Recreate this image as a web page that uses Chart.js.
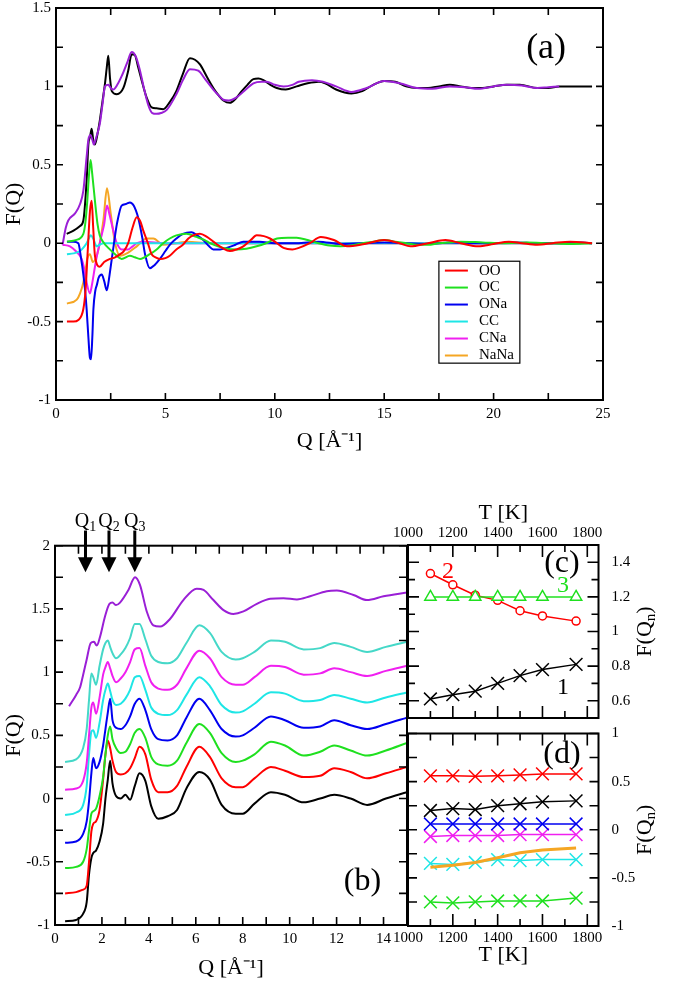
<!DOCTYPE html>
<html><head><meta charset="utf-8">
<script src="https://cdn.jsdelivr.net/npm/chart.js@4.4.1/dist/chart.umd.min.js"></script>
<style>
html,body{margin:0;padding:0;background:#fff;}
body{position:relative;width:685px;height:981px;overflow:hidden;}
canvas{position:absolute;display:block;}
</style></head><body>
<canvas id="cA" width="685" height="476" style="left:0;top:-6px"></canvas>
<canvas id="cB" width="420" height="491" style="left:0;top:490px"></canvas>
<canvas id="cC" width="325" height="250" style="left:360px;top:490px"></canvas>
<canvas id="cD" width="325" height="281" style="left:360px;top:700px"></canvas>
<script>
// ---------------- Panel (a): total and partial F(Q) ----------------
const qTotBlack = [0.49,0.8,1.1,1.25,1.4,1.48,1.56,1.63,1.7,1.78,1.9,2.0,2.12,2.24,2.32,2.39,2.47,2.55,2.78,3.08,3.3,3.46,3.6,3.76,3.95,4.14,4.37,4.6,4.9,5.2,5.5,5.8,6.12,6.35,6.58,6.9,7.19,7.45,7.65,7.95,8.2,8.49,8.75,9.02,9.25,9.48,9.8,10.09,10.5,11.0,11.5,12.0,12.3,12.8,13.5,14.0,14.5,15.0,15.5,16.0,16.5,17.0,17.5,18.0,18.5,19.0,19.5,20.0,20.6,21.2,22.0,22.5,23.0,23.5,24.0,24.5];
const fTotBlack = [0.06,0.08,0.11,0.145,0.4,0.63,0.68,0.73,0.66,0.63,0.7,0.78,0.9,1.02,1.12,1.195,1.05,0.97,0.95,0.99,1.1,1.205,1.2,1.12,1.02,0.93,0.866,0.86,0.855,0.9,0.97,1.08,1.18,1.17,1.14,1.06,0.99,0.94,0.91,0.895,0.92,0.97,1.01,1.046,1.05,1.04,1.01,0.99,0.98,1.0,1.02,1.03,1.02,0.98,0.955,0.97,1.01,1.035,1.03,1.0,0.99,0.99,1.0,1.01,1.0,0.99,0.99,1.0,1.01,1.01,0.99,0.99,1.0,1.0,1.0,1.0];
const qTotViolet = [0.3,0.45,0.56,0.87,1.1,1.25,1.4,1.48,1.58,1.66,1.73,1.85,2.0,2.12,2.24,2.39,2.5,2.62,2.8,3.0,3.25,3.46,3.65,3.84,4.0,4.22,4.4,4.6,4.8,5.06,5.5,5.8,6.12,6.5,6.85,7.19,7.45,7.65,7.9,8.25,8.6,9.02,9.4,9.63,10.0,10.4,10.8,11.1,11.7,12.2,12.8,13.5,14.2,15.0,15.7,16.5,17.2,18.0,18.7,19.3,20.0,20.6,21.3,22.0,22.5,23.0];
const fTotViolet = [-0.01,0.1,0.145,0.19,0.25,0.335,0.55,0.66,0.69,0.66,0.63,0.68,0.76,0.88,1.0,1.01,0.99,0.98,1.01,1.065,1.15,1.22,1.19,1.1,1.0,0.88,0.83,0.825,0.83,0.85,0.95,1.04,1.11,1.1,1.04,0.98,0.94,0.915,0.91,0.93,0.97,1.02,1.03,1.03,1.01,1.0,1.01,1.03,1.04,1.03,1.0,0.965,0.99,1.035,1.02,0.99,0.985,1.0,0.995,0.985,1.0,1.01,1.005,0.99,0.995,1.0];
const qOO = [0.5,0.8,1.02,1.25,1.35,1.45,1.55,1.63,1.7,1.78,2.0,2.2,2.47,2.7,2.93,3.1,3.3,3.5,3.69,3.85,3.99,4.2,4.37,4.55,4.75,5.0,5.2,5.5,5.8,6.05,6.27,6.58,6.9,7.19,7.6,7.95,8.25,8.56,8.9,9.17,9.5,9.78,10.1,10.4,10.8,11.1,11.6,12.1,12.7,13.3,14.1,15.0,15.7,16.2,17.0,17.8,18.5,19.3,20.0,20.7,21.3,22.0,22.7,23.5,24.5];
const fOO = [-0.5,-0.5,-0.49,-0.42,-0.3,-0.05,0.2,0.27,0.1,-0.08,-0.15,-0.12,-0.1,-0.09,-0.07,-0.05,0.0,0.1,0.166,0.14,0.08,0.0,-0.07,-0.09,-0.1,-0.095,-0.08,-0.04,-0.01,0.03,0.05,0.06,0.04,0.01,-0.03,-0.05,-0.04,-0.02,0.02,0.05,0.045,0.03,0.0,-0.03,-0.04,-0.03,0.0,0.04,0.02,-0.02,-0.005,0.02,0.0,-0.02,0.0,0.02,0.0,-0.02,-0.005,0.01,0.0,-0.01,0.0,0.01,0.0];
const qOC = [0.5,0.9,1.25,1.35,1.43,1.5,1.58,1.65,1.78,1.9,2.0,2.2,2.39,2.7,3.0,3.38,3.6,3.84,4.29,4.6,4.9,5.2,5.5,5.96,6.42,6.8,7.04,7.4,7.65,8.25,8.7,9.17,9.6,10.1,10.6,11.0,11.5,12.0,12.5,13.0,13.5,14.0,14.5,15.0,15.5,16.0,16.5,17.0,17.5,18.5,19.5,20.5,21.5,22.5,23.5,24.5];
const fOC = [0.01,0.02,0.06,0.14,0.27,0.42,0.53,0.45,0.27,0.12,0.05,0.0,-0.03,-0.07,-0.1,-0.08,-0.09,-0.1,-0.07,-0.04,0.0,0.03,0.05,0.06,0.04,0.02,0.0,-0.02,-0.03,-0.04,-0.035,-0.02,0.0,0.03,0.035,0.035,0.02,0.0,-0.015,-0.02,-0.015,0.0,0.01,0.02,0.01,0.0,-0.01,-0.01,0.0,0.01,0.005,0.0,0.005,0.0,-0.005,0.0];
const qONa = [0.5,0.8,1.02,1.15,1.25,1.33,1.4,1.48,1.55,1.6,1.66,1.71,1.8,1.86,1.95,2.09,2.2,2.32,2.45,2.55,2.67,2.78,3.0,3.2,3.38,3.55,3.76,3.95,4.07,4.29,4.5,4.75,5.0,5.2,5.5,5.8,6.19,6.45,6.73,7.0,7.19,7.5,7.8,8.2,8.56,9.3,10.0,10.4,11.0,12.0,13.0,14.0,15.0,16.0,17.0,18.0,19.0,20.0,21.0,22.0,23.0,24.0,24.5];
const fONa = [0.01,0.01,0.0,-0.1,-0.2,-0.3,-0.42,-0.6,-0.73,-0.74,-0.6,-0.42,-0.3,-0.27,-0.22,-0.2,-0.24,-0.3,-0.2,-0.1,0.02,0.12,0.24,0.25,0.26,0.24,0.16,0.03,-0.07,-0.16,-0.14,-0.1,-0.05,-0.01,0.03,0.06,0.07,0.05,0.02,-0.02,-0.04,-0.04,-0.03,-0.01,0.01,0.01,0.0,0.0,0.0,0.01,-0.005,0.0,0.005,0.0,-0.005,0.005,0.0,0.0,0.005,0.0,0.0,0.005,0.0];
const qCC = [0.5,0.8,1.1,1.3,1.4,1.5,1.58,1.7,1.86,2.0,2.17,2.5,3.0,4.0,5.0,6.0,8.0,10.0,12.0,14.0,16.0,18.0,20.0,22.0,24.0,24.5];
const fCC = [-0.07,-0.065,-0.05,-0.02,0.0,0.03,0.05,0.03,-0.02,-0.01,0,0,0,0,0,0,0,0,0,0,0,0,0,0,0,0];
const qCNa = [0.3,0.64,0.9,1.17,1.3,1.4,1.55,1.65,1.78,1.9,2.0,2.1,2.2,2.33,2.45,2.55,2.67,2.78,3.0,3.3,3.5,3.69,4.0,5.0,6.0,8.0,10.0,12.0,14.0,16.0,18.0,20.0,22.0,24.0];
const fCNa = [-0.01,-0.02,-0.05,-0.1,-0.17,-0.25,-0.32,-0.26,-0.15,-0.06,0.0,0.06,0.12,0.24,0.18,0.12,0.05,0.0,-0.04,-0.04,-0.02,0.0,0.01,0,0,0,0,0,0,0,0,0,0,0];
const qNaNa = [0.5,0.95,1.1,1.25,1.35,1.43,1.55,1.68,1.86,2.0,2.17,2.33,2.5,2.7,2.93,3.3,3.69,4.14,4.45,4.9,5.5,6.0,7.0,8.0,10.0,12.0,14.0,16.0,18.0,20.0,22.0,24.5];
const fNaNa = [-0.385,-0.36,-0.32,-0.25,-0.17,-0.1,-0.07,-0.12,-0.08,0.0,0.15,0.35,0.19,0.0,-0.08,-0.06,-0.02,0.03,0.03,-0.01,0.0,0.01,0,0,0,0,0,0,0,0,0,0];

// ---------------- Panel (b): F(Q) at several temperatures (shifted) ----------------
const qB = [0.43,0.9,1.2,1.35,1.45,1.55,1.63,1.75,1.9,2.05,2.15,2.25,2.35,2.45,2.6,2.8,3.0,3.2,3.4,3.6,3.85,4.1,4.4,4.8,5.2,5.6,6.15,6.6,7.1,7.7,8.0,8.5,9.2,9.8,10.6,11.3,11.9,12.6,13.3,14.1,15.0];
const fBblack = [-0.97,-0.96,-0.91,-0.82,-0.6,-0.47,-0.43,-0.41,-0.34,-0.2,0.0,0.15,0.3,0.12,0.02,0.0,0.03,-0.01,0.1,0.2,0.14,-0.06,-0.16,-0.14,-0.09,0.08,0.21,0.15,-0.05,-0.12,-0.12,-0.04,0.05,0.03,-0.03,0.0,0.03,0.0,-0.05,0.0,0.05];
const fBred = [-0.75,-0.74,-0.72,-0.69,-0.5,-0.26,-0.2,-0.18,-0.09,0.15,0.35,0.46,0.4,0.3,0.21,0.19,0.2,0.24,0.32,0.41,0.35,0.15,0.05,0.05,0.1,0.25,0.41,0.33,0.16,0.09,0.09,0.16,0.25,0.22,0.17,0.18,0.24,0.21,0.16,0.2,0.25];
const fBgreen = [-0.55,-0.54,-0.5,-0.4,-0.25,-0.12,-0.1,-0.08,0.02,0.17,0.35,0.5,0.57,0.47,0.4,0.36,0.37,0.43,0.52,0.55,0.48,0.33,0.27,0.26,0.3,0.44,0.59,0.52,0.36,0.29,0.3,0.35,0.45,0.42,0.34,0.37,0.42,0.38,0.34,0.38,0.44];
const fBblue = [-0.35,-0.34,-0.28,-0.18,-0.02,0.2,0.32,0.24,0.29,0.42,0.55,0.68,0.79,0.62,0.56,0.55,0.58,0.65,0.75,0.79,0.7,0.55,0.47,0.46,0.5,0.64,0.79,0.7,0.55,0.49,0.5,0.56,0.65,0.62,0.56,0.57,0.62,0.58,0.55,0.59,0.64];
const fBcyan = [-0.13,-0.11,-0.05,0.1,0.35,0.53,0.54,0.48,0.6,0.78,0.86,0.91,0.85,0.78,0.74,0.75,0.79,0.86,0.96,0.97,0.86,0.72,0.67,0.66,0.7,0.82,0.96,0.89,0.74,0.68,0.69,0.75,0.84,0.83,0.77,0.78,0.82,0.79,0.76,0.8,0.84];
const fBmagenta = [0.07,0.08,0.14,0.28,0.5,0.72,0.76,0.67,0.8,0.98,1.04,1.08,1.03,0.97,0.92,0.95,1.0,1.08,1.18,1.19,1.05,0.92,0.87,0.86,0.9,1.03,1.17,1.11,0.96,0.9,0.9,0.96,1.05,1.04,0.98,0.99,1.03,1.0,0.97,1.01,1.05];
const fBturq = [0.29,0.31,0.4,0.55,0.78,0.99,0.96,0.9,1.05,1.18,1.23,1.25,1.2,1.15,1.11,1.14,1.19,1.27,1.38,1.38,1.26,1.13,1.08,1.07,1.11,1.23,1.37,1.31,1.16,1.1,1.11,1.16,1.25,1.24,1.18,1.19,1.23,1.2,1.16,1.2,1.24];
const qBviolet = [0.6,0.9,1.07,1.2,1.35,1.52,1.66,1.78,1.92,2.13,2.32,2.45,2.6,2.77,3.13,3.41,3.62,3.91,4.19,4.48,4.9,5.47,6.04,6.33,6.75,7.18,7.6,8.03,8.6,9.17,9.74,10.31,10.87,11.58,12.01,12.72,13.29,14.0,15.0];
const fBviolet = [0.73,0.82,0.88,0.98,1.1,1.23,1.24,1.21,1.28,1.44,1.54,1.55,1.53,1.55,1.65,1.75,1.69,1.48,1.37,1.36,1.42,1.57,1.66,1.65,1.57,1.49,1.46,1.48,1.54,1.58,1.585,1.575,1.6,1.64,1.645,1.61,1.57,1.6,1.63];
const peakQ = [1.3, 2.3, 3.4];
const peakNames = ['1', '2', '3'];

// ---------------- Panels (c) and (d): F(Q_n) versus temperature ----------------
const temps = [1100,1200,1300,1400,1500,1600,1750];
const cQ1 = [0.61,0.635,0.655,0.70,0.745,0.78,0.81];
const cQ2 = [1.335,1.27,1.21,1.18,1.12,1.09,1.06];
const cQ3 = [1.2,1.2,1.2,1.2,1.2,1.2,1.2];
const cYTicks = [0.6, 0.8, 1.0, 1.2, 1.4];
const dRed = [0.56,0.56,0.555,0.56,0.57,0.58,0.58];
const dBlack = [0.2,0.22,0.21,0.25,0.27,0.29,0.3];
const dBlue = [0.06,0.06,0.06,0.06,0.06,0.06,0.06];
const dMagenta = [-0.07,-0.06,-0.06,-0.06,-0.05,-0.05,-0.05];
const dOrange = [-0.39,-0.37,-0.34,-0.29,-0.24,-0.21,-0.19];
const dCyan = [-0.35,-0.36,-0.34,-0.31,-0.32,-0.31,-0.31];
const dGreen = [-0.75,-0.76,-0.75,-0.74,-0.74,-0.74,-0.71];

// ---------------- styling ----------------
const FONT = '"Liberation Serif", "Times New Roman", serif';
const C = {black:'#000000', red:'#ff0000', green:'#1fe01f', blue:'#0000f0', cyan:'#1ee6e6',
           magenta:'#f020f0', orange:'#f5a623', violet:'#9a1fd6', turq:'#45d8c8'};
Chart.defaults.font.family = FONT;
Chart.defaults.color = '#000';

const pts = (xs, ys) => xs.map((x, i) => ({x: x, y: ys[i]}));
function curve(label, xs, ys, color, w, extra) {
  return Object.assign({label: label, data: pts(xs, ys), showLine: true, borderColor: color,
    backgroundColor: color, borderWidth: w, pointRadius: 0, cubicInterpolationMode: 'monotone'}, extra || {});
}
const fmt = v => String(Math.round(v * 1000) / 1000);

// in-ward ticks on all four sides + full frame
function framePlugin(specs) {
  return { id: 'frame', afterDatasetsDraw(chart) {
    const ctx = chart.ctx, a = chart.chartArea;
    ctx.save(); ctx.strokeStyle = '#000'; ctx.lineWidth = 1.6;
    for (const t of specs) {
      const s = chart.scales[t.axis];
      const i0 = Math.ceil(s.min / t.minor - 1e-6), i1 = Math.floor(s.max / t.minor + 1e-6);
      for (let i = i0; i <= i1; i++) {
        const v = i * t.minor;
        const maj = Math.abs(v / t.major - Math.round(v / t.major)) < 1e-6;
        const len = maj ? t.majLen : t.minLen;
        const p = s.getPixelForValue(v);
        ctx.beginPath();
        if (s.isHorizontal()) {
          ctx.moveTo(p, a.bottom); ctx.lineTo(p, a.bottom - len);
          ctx.moveTo(p, a.top); ctx.lineTo(p, a.top + len);
        } else {
          ctx.moveTo(a.left, p); ctx.lineTo(a.left + len, p);
          ctx.moveTo(a.right, p); ctx.lineTo(a.right - len, p);
        }
        ctx.stroke();
      }
    }
    ctx.lineWidth = 2;
    ctx.strokeRect(a.left, a.top, a.right - a.left, a.bottom - a.top);
    ctx.restore();
  }};
}

// text annotations and arrows placed in data coordinates
function notesPlugin(items) {
  return { id: 'notes', afterDraw(chart) {
    const ctx = chart.ctx, xs = chart.scales.x, ys = chart.scales.y;
    ctx.save();
    for (const it of items) {
      const px = xs.getPixelForValue(it.x);
      if (it.arrow) {
        const p0 = ys.getPixelForValue(it.y0), p1 = ys.getPixelForValue(it.y1);
        const head = 15;
        ctx.strokeStyle = '#000'; ctx.fillStyle = '#000'; ctx.lineWidth = 3;
        ctx.beginPath(); ctx.moveTo(px, p0); ctx.lineTo(px, p1 - head + 1); ctx.stroke();
        ctx.beginPath(); ctx.moveTo(px - 7.5, p1 - head); ctx.lineTo(px + 7.5, p1 - head); ctx.lineTo(px, p1); ctx.closePath(); ctx.fill();
        continue;
      }
      const py = ys.getPixelForValue(it.y);
      ctx.save(); ctx.translate(px, py); if (it.rot) ctx.rotate(it.rot);
      ctx.fillStyle = it.color || '#000'; ctx.textBaseline = 'middle'; ctx.textAlign = 'left';
      let w = 0;
      for (const p of it.parts) { ctx.font = p.size + 'px ' + FONT; w += ctx.measureText(p.t).width; }
      let cx = -w / 2;
      for (const p of it.parts) { ctx.font = p.size + 'px ' + FONT; ctx.fillText(p.t, cx, p.dy || 0); cx += ctx.measureText(p.t).width; }
      ctx.restore();
    }
    ctx.restore();
  }};
}

function legendPlugin(box) {
  return { id: 'legendBox', afterDraw(chart) {
    const ctx = chart.ctx, xs = chart.scales.x, ys = chart.scales.y;
    const L = xs.getPixelForValue(box.x0), R = xs.getPixelForValue(box.x1);
    const T = ys.getPixelForValue(box.y0), B = ys.getPixelForValue(box.y1);
    ctx.save();
    ctx.fillStyle = '#fff'; ctx.fillRect(L, T, R - L, B - T);
    ctx.strokeStyle = '#000'; ctx.lineWidth = 1.2; ctx.strokeRect(L, T, R - L, B - T);
    const items = chart.data.datasets.filter(d => d.inLegend);
    const step = (B - T) / items.length;
    items.forEach((d, i) => {
      const cy = T + step * (i + 0.55);
      ctx.strokeStyle = d.borderColor; ctx.lineWidth = 2;
      ctx.beginPath(); ctx.moveTo(L + 6, cy); ctx.lineTo(L + 29, cy); ctx.stroke();
      ctx.fillStyle = '#000'; ctx.font = '15px ' + FONT; ctx.textBaseline = 'middle'; ctx.textAlign = 'left';
      ctx.fillText(d.label, L + 40, cy);
    });
    ctx.restore();
  }};
}

const base = {responsive: false, animation: false, devicePixelRatio: 1, events: [],
  plugins: {legend: {display: false}, tooltip: {enabled: false}}};
const noGrid = {display: false, drawTicks: false};
const noBorder = {display: false};

// ---------------- Chart (a) ----------------
new Chart(document.getElementById('cA'), {
  type: 'scatter',
  data: {datasets: [
    curve('OO', qOO, fOO, C.red, 2, {inLegend: true}),
    curve('OC', qOC, fOC, C.green, 2, {inLegend: true}),
    curve('ONa', qONa, fONa, C.blue, 2, {inLegend: true}),
    curve('CC', qCC, fCC, C.cyan, 2, {inLegend: true}),
    curve('CNa', qCNa, fCNa, C.magenta, 2, {inLegend: true}),
    curve('NaNa', qNaNa, fNaNa, C.orange, 2, {inLegend: true}),
    curve('total (violet)', qTotViolet, fTotViolet, C.violet, 2),
    curve('total (black)', qTotBlack, fTotBlack, C.black, 2)
  ]},
  options: Object.assign({}, base, {
    layout: {padding: {left: 0, top: 7, right: 82, bottom: 0}},
    scales: {
      x: {type: 'linear', position: 'bottom', min: 0, max: 25,
          ticks: {stepSize: 5, font: {size: 15}, padding: 5, maxRotation: 0, callback: fmt},
          grid: noGrid, border: noBorder,
          title: {display: true, text: 'Q [Å⁻¹]', font: {size: 22}, padding: {top: 0, bottom: 16}},
          afterFit: s => { s.height = 70; }},
      y: {type: 'linear', position: 'left', min: -1, max: 1.5,
          ticks: {stepSize: 0.5, font: {size: 15}, padding: 5, callback: fmt},
          grid: noGrid, border: noBorder,
          title: {display: true, text: 'F(Q)', font: {size: 22}, padding: {top: 1, bottom: 0}},
          afterFit: s => { s.width = 56; }}
    }
  }),
  plugins: [
    framePlugin([{axis: 'x', major: 5, minor: 2.5, majLen: 7, minLen: 7}, {axis: 'y', major: 0.5, minor: 0.25, majLen: 7, minLen: 7}]),
    notesPlugin([{x: 22.4, y: 1.24, parts: [{t: '(a)', size: 36}]}]),
    legendPlugin({x0: 17.5, y0: -0.115, x1: 21.2, y1: -0.765})
  ]
});

// ---------------- Chart (b) ----------------
const notesB = [{x: 13.1, y: -0.66, parts: [{t: '(b)', size: 32}]}];
peakQ.forEach((q, i) => {
  notesB.push({arrow: true, x: q, y0: 2.12, y1: 1.79});
  notesB.push({x: q, y: 2.19, parts: [{t: 'Q', size: 20}, {t: peakNames[i], size: 14, dy: 6}]});
});
new Chart(document.getElementById('cB'), {
  type: 'scatter',
  data: {datasets: [
    curve('violet', qBviolet, fBviolet, C.violet, 2),
    curve('turquoise', qB, fBturq, C.turq, 2),
    curve('magenta', qB, fBmagenta, C.magenta, 2),
    curve('cyan', qB, fBcyan, C.cyan, 2),
    curve('blue', qB, fBblue, C.blue, 2),
    curve('green', qB, fBgreen, C.green, 2),
    curve('red', qB, fBred, C.red, 2),
    curve('black', qB, fBblack, C.black, 2)
  ]},
  options: Object.assign({}, base, {
    layout: {padding: {left: 0, top: 55.7, right: 13, bottom: 0}},
    scales: {
      x: {type: 'linear', position: 'bottom', min: 0, max: 15,
          ticks: {stepSize: 2, includeBounds: false, font: {size: 15}, padding: 5, maxRotation: 0, callback: fmt},
          grid: noGrid, border: noBorder,
          title: {display: true, text: 'Q [Å⁻¹]', font: {size: 22}, padding: {top: 0, bottom: 0}},
          afterFit: s => { s.height = 56; }},
      y: {type: 'linear', position: 'left', min: -1, max: 2,
          ticks: {stepSize: 0.5, font: {size: 15}, padding: 5, callback: fmt},
          grid: noGrid, border: noBorder,
          title: {display: true, text: 'F(Q)', font: {size: 22}, padding: {top: 1, bottom: 0}},
          afterFit: s => { s.width = 55; }}
    }
  }),
  plugins: [
    framePlugin([{axis: 'x', major: 2, minor: 1, majLen: 8, minLen: 8}, {axis: 'y', major: 0.5, minor: 0.25, majLen: 8, minLen: 8}]),
    notesPlugin(notesB)
  ]
});

// ---------------- Chart (c) ----------------
const markX = (color) => ({pointStyle: 'crossRot', pointRadius: 9, pointBorderWidth: 1.5, pointBorderColor: color, cubicInterpolationMode: 'default', tension: 0});
new Chart(document.getElementById('cC'), {
  type: 'scatter',
  data: {datasets: [
    curve('Q3', temps, cQ3, C.green, 1.5, {pointStyle: 'triangle', pointRadius: 6.5, pointBorderWidth: 1.5, pointBackgroundColor: '#fff', pointBorderColor: C.green, cubicInterpolationMode: 'default'}),
    curve('Q2', temps, cQ2, C.red, 1.5, {pointStyle: 'circle', pointRadius: 4, pointBorderWidth: 1.5, pointBackgroundColor: '#fff', pointBorderColor: C.red, cubicInterpolationMode: 'default'}),
    curve('Q1', temps, cQ1, C.black, 1.5, markX(C.black))
  ]},
  options: Object.assign({}, base, {
    layout: {padding: {left: 48, top: 0, right: 0, bottom: 6.5}},
    scales: {
      x: {type: 'linear', position: 'top', min: 1000, max: 1850,
          ticks: {stepSize: 200, includeBounds: false, font: {size: 15}, padding: 3, maxRotation: 0, callback: fmt},
          grid: noGrid, border: noBorder,
          title: {display: true, text: 'T [K]', font: {size: 22}, padding: {top: 10, bottom: 0}},
          afterFit: s => { s.height = 55; }},
      y: {type: 'linear', position: 'right', min: 0.5, max: 1.5,
          afterBuildTicks: s => { s.ticks = cYTicks.map(v => ({value: v})); },
          ticks: {font: {size: 15}, padding: 13, callback: fmt},
          grid: noGrid, border: noBorder,
          afterFit: s => { s.width = 86.5; }}
    }
  }),
  plugins: [
    framePlugin([{axis: 'x', major: 200, minor: 100, majLen: 12, minLen: 7}, {axis: 'y', major: 0.2, minor: 0.1, majLen: 11, minLen: 7}]),
    notesPlugin([
      {x: 1687, y: 1.39, parts: [{t: '(c)', size: 32}]},
      {x: 1178, y: 1.345, color: C.red, parts: [{t: '2', size: 24}]},
      {x: 1692, y: 1.265, color: C.green, parts: [{t: '3', size: 24}]},
      {x: 1692, y: 0.675, parts: [{t: '1', size: 24}]},
      {x: 2057, y: 1.0, rot: -Math.PI / 2, parts: [{t: 'F(Q', size: 22}, {t: 'n', size: 15, dy: 6}, {t: ')', size: 22}]}
    ])
  ]
});

// ---------------- Chart (d) ----------------
new Chart(document.getElementById('cD'), {
  type: 'scatter',
  data: {datasets: [
    curve('red', temps, dRed, C.red, 1.5, markX(C.red)),
    curve('black', temps, dBlack, C.black, 1.5, markX(C.black)),
    curve('blue', temps, dBlue, C.blue, 1.5, markX(C.blue)),
    curve('magenta', temps, dMagenta, C.magenta, 1.5, markX(C.magenta)),
    curve('orange', temps, dOrange, C.orange, 3, {cubicInterpolationMode: 'default'}),
    curve('cyan', temps, dCyan, C.cyan, 1.5, markX(C.cyan)),
    curve('green', temps, dGreen, C.green, 1.5, markX(C.green))
  ]},
  options: Object.assign({}, base, {
    layout: {padding: {left: 48, top: 33.5, right: 0, bottom: 0}},
    scales: {
      x: {type: 'linear', position: 'bottom', min: 1000, max: 1850,
          ticks: {stepSize: 200, includeBounds: false, font: {size: 15}, padding: 3, maxRotation: 0, callback: fmt},
          grid: noGrid, border: noBorder,
          title: {display: true, text: 'T [K]', font: {size: 22}, padding: {top: 0, bottom: 13}},
          afterFit: s => { s.height = 55; }},
      y: {type: 'linear', position: 'right', min: -1, max: 1,
          ticks: {stepSize: 0.5, font: {size: 15}, padding: 13, callback: fmt},
          grid: noGrid, border: noBorder,
          afterFit: s => { s.width = 86.5; }}
    }
  }),
  plugins: [
    framePlugin([{axis: 'x', major: 200, minor: 100, majLen: 12, minLen: 7}, {axis: 'y', major: 0.5, minor: 0.25, majLen: 9, minLen: 9}]),
    notesPlugin([
      {x: 1687, y: 0.78, parts: [{t: '(d)', size: 32}]},
      {x: 2057, y: 0.0, rot: -Math.PI / 2, parts: [{t: 'F(Q', size: 22}, {t: 'n', size: 15, dy: 6}, {t: ')', size: 22}]}
    ])
  ]
});
</script></body></html>
